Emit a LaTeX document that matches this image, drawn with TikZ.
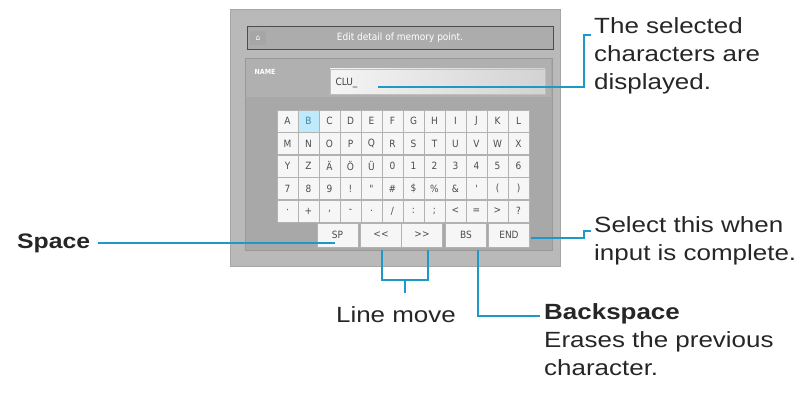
\documentclass[tikz,border=0pt]{standalone}
\usepackage{fontspec}
\setmainfont[FakeStretch=1.18]{Liberation Sans}
\newfontfamily\keyfont[Ligatures=NoCommon]{DejaVu Sans Condensed}
\definecolor{leadc}{RGB}{30,152,200}
\begin{document}
\begin{tikzpicture}[x=1pt,y=-1pt,
  lead/.style={draw=leadc,line width=1.6pt},
  lbl/.style={font=\fontsize{22}{28}\selectfont,anchor=north west,align=left,inner sep=0pt,text=black!85},
  key/.style={draw=gray!60,fill=white!93!gray,minimum width=21pt,minimum height=22pt,inner sep=0pt,font=\fontsize{10}{10}\selectfont\keyfont,text=black!70},
  bkey/.style={key,minimum width=41pt,minimum height=24pt}]
\useasboundingbox (0,0) rectangle (806,401);
% screen
\node[draw=gray!70,fill=gray!55,minimum width=330pt,minimum height=257pt,inner sep=0pt] (scr) at (395,138) {};
\node[draw=black!70,line width=1pt,fill=gray!65,minimum width=306pt,minimum height=23pt,inner sep=0pt,font=\fontsize{10}{10}\selectfont\keyfont,text=white] (title) at (400,38) {Edit detail of memory point.};
\node[fill=gray!70,minimum width=16pt,minimum height=14pt,inner sep=0pt,font=\fontsize{8}{8}\selectfont\keyfont,text=white] (icon) at (258,38) {⌂};
\node[draw=gray!80,fill=gray!68,minimum width=307pt,minimum height=192pt,inner sep=0pt] (panel) at (398.5,154) {};
\node[fill=gray!62,minimum width=305pt,minimum height=38pt,inner sep=0pt] (namerow) at (398.5,78) {};
\node[font=\fontsize{7}{7}\selectfont\keyfont\bfseries,text=white] (namelbl) at (265,72) {NAME};
\node[draw=gray!50,left color=white!92!gray,right color=gray!35,minimum width=215pt,minimum height=25pt,inner sep=0pt] (field) at (437.5,81.5) {};
\node[font=\fontsize{10}{10}\selectfont\keyfont,anchor=west,text=black!75] (clu) at (332,83) {CLU\_};
\coordinate (cluend) at (378,87);
% keyboard
\foreach \row [count=\r from 0] in {{A,B,C,D,E,F,G,H,I,J,K,L},{M,N,O,P,Q,R,S,T,U,V,W,X},{Y,Z,Ä,Ö,Ü,0,1,2,3,4,5,6},{7,8,9,!,",\#,\$,\%,\&,',{(},{)}},{·,+,{,},-,.,/,:,;,{<},=,{>},?}}{
  \foreach \c [count=\i from 0] in \row {
    \node[key] (k\r-\i) at (287.5+21*\i,121+22.5*\r) {\c};
  }
}
\node[key,fill=cyan!25,text=cyan!60!black] at (308.5,121) {B};
\node[bkey] (sp) at (337.5,235) {SP};
\node[bkey] (ll) at (381,235) {<{}<};
\node[bkey] (rr) at (422,235) {>{}>};
\node[bkey] (bs) at (466,235) {BS};
\node[bkey] (en) at (509,235) {END};
% labels
\node[lbl] (t1) at (594,17) {The selected\\characters are\\displayed.};
\node[lbl] (t2) at (594,216) {Select this when\\input is complete.};
\node[lbl,font=\fontsize{21}{28}\selectfont\bfseries,anchor=west] (spc) at (17,243) {Space};
\node[lbl,anchor=north] (lm) at (396,306) {Line move};
\node[lbl] (bks) at (544,303) {\textbf{Backspace}\\Erases the previous\\character.};
\coordinate (c1) at (584,35);
\coordinate (c2) at (584,231);
\coordinate (lmm) at (405,280);
\coordinate (bsc) at (478,316);
\coordinate (spe) at (335,243);
% leaders
\draw[lead] (cluend) -- (584,87) -- (c1) -- (591,35);
\draw[lead] (531,238) -- (584,238) -- (c2) -- (591,231);
\draw[lead] ([xshift=8pt]spc.east) -- (spe);
\draw[lead] (382,250) -- (382,280) -- (428,280) -- (428,250);
\draw[lead] (lmm) -- (405,293);
\draw[lead] (478,250) -- (bsc) -- (540,316);
\end{tikzpicture}
\end{document}
